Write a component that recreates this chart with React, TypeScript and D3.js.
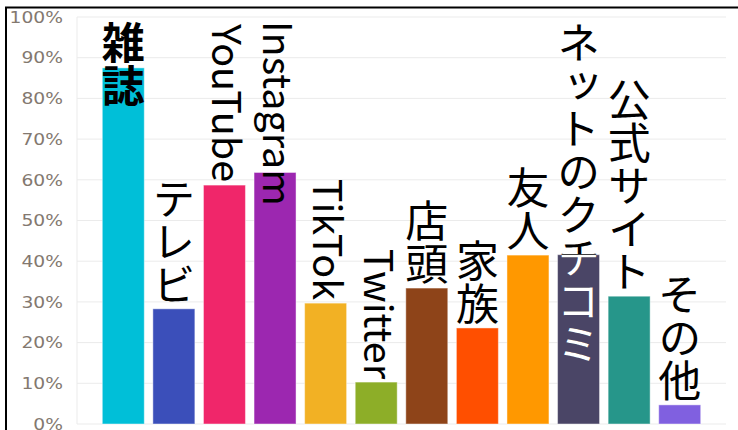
import React, { useEffect, useRef } from "react";
import * as d3 from "d3";

const categories = ["雑誌", "テレビ", "YouTube", "Instagram", "TikTok", "Twitter", "店頭", "家族", "友人", "ネットのクチコミ", "公式サイト", "その他"];
const values = [87.5, 28.3, 58.7, 61.8, 29.7, 10.3, 33.4, 23.6, 41.5, 41.6, 31.4, 4.7];
const colors = ["#00BFD8", "#3B4FBA", "#F0266A", "#9C27B0", "#F2B124", "#8DAE28", "#8E4419", "#FF4F00", "#FF9800", "#4A4566", "#26968A", "#8060E0"];
const yTicks = [0, 10, 20, 30, 40, 50, 60, 70, 80, 90, 100];
const boldIndex = 0;

const W = 738;
const H = 430;

export default function App() {
  const ref = useRef<SVGSVGElement | null>(null);

  useEffect(() => {
    const svg = d3.select(ref.current);
    svg.selectAll("*").remove();

    const left = 77, right = 726, top = 17, bottom = 424;
    const x = d3.scaleBand<string>().domain(categories).range([left, right]).paddingInner(0.17).paddingOuter(0.5);
    const y = d3.scaleLinear().domain([0, 100]).range([bottom, top]);

    svg.append("rect").attr("width", W).attr("height", H).attr("fill", "#fff");

    // gridlines
    svg.append("g").selectAll("line").data(yTicks).join("line")
      .attr("x1", left).attr("x2", right)
      .attr("y1", (d) => y(d)).attr("y2", (d) => y(d))
      .attr("stroke", "#ebebeb").attr("stroke-width", 1);
    svg.append("line").attr("x1", left).attr("x2", left).attr("y1", top).attr("y2", bottom)
      .attr("stroke", "#ebebeb");

    // tick labels
    svg.append("g").selectAll("text").data(yTicks).join("text")
      .attr("transform", (d) => `translate(63,${y(d)}) scale(1.17,1)`)
      .attr("text-anchor", "end").attr("dy", "0.36em")
      .attr("font-family", "DejaVu Sans").attr("font-size", 16)
      .attr("fill", "#83786f")
      .text((d) => `${d}%`);

    // bars
    const defs = svg.append("defs");
    categories.forEach((c, i) => {
      defs.append("clipPath").attr("id", `clip${i}`)
        .append("rect").attr("x", x(c)!).attr("y", y(values[i]))
        .attr("width", x.bandwidth()).attr("height", bottom - y(values[i]));
    });
    svg.append("g").selectAll("rect").data(categories).join("rect")
      .attr("x", (d) => x(d)!).attr("y", (d, i) => y(values[i]))
      .attr("width", x.bandwidth()).attr("height", (d, i) => bottom - y(values[i]))
      .attr("fill", (d, i) => colors[i])
      .attr("stroke", "rgba(255,255,255,0.45)").attr("stroke-width", 1);

    // labels
    const lum = (hex: string) => {
      const c = d3.rgb(hex);
      const f = (v: number) => { v /= 255; return v <= 0.03928 ? v / 12.92 : Math.pow((v + 0.055) / 1.055, 2.4); };
      return 0.2126 * f(c.r) + 0.7152 * f(c.g) + 0.0722 * f(c.b);
    };
    const lg = svg.append("g");
    categories.forEach((c, i) => {
      const latin = /^[A-Za-z]+$/.test(c);
      const cx = x(c)! + x.bandwidth() / 2 + (latin ? 5 : 0);
      const make = (fill: string) => lg.append("text")
        .attr("x", cx)
        .attr("style", "writing-mode: vertical-rl; text-orientation: mixed;")
        .attr("font-family", "'Noto Sans CJK JP'")
        .attr("font-size", latin ? 39.5 : 43)
        .attr("font-weight", i === boldIndex ? 700 : 400)
        .attr("fill", fill)
        .text(c);
      const t = make("#000");
      const len = (t.node() as SVGTextElement).getComputedTextLength();
      const barTop = y(values[i]);
      const start = Math.max(21, barTop - 3 - len);
      t.attr("y", start);
      if (start + len > barTop && lum(colors[i]) < 0.09) {
        make("#fff").attr("y", start).attr("clip-path", `url(#clip${i})`);
      }
    });

    // border
    svg.append("line").attr("x1", 5).attr("x2", W).attr("y1", 7.5).attr("y2", 7.5).attr("stroke", "#000").attr("stroke-width", 2);
    svg.append("line").attr("x1", 6).attr("x2", 6).attr("y1", 7).attr("y2", H).attr("stroke", "#000").attr("stroke-width", 2);
  }, []);

  return (
    <svg ref={ref} width={W} height={H} style={{ position: "absolute", left: 0, top: 0, display: "block" }} />
  );
}
